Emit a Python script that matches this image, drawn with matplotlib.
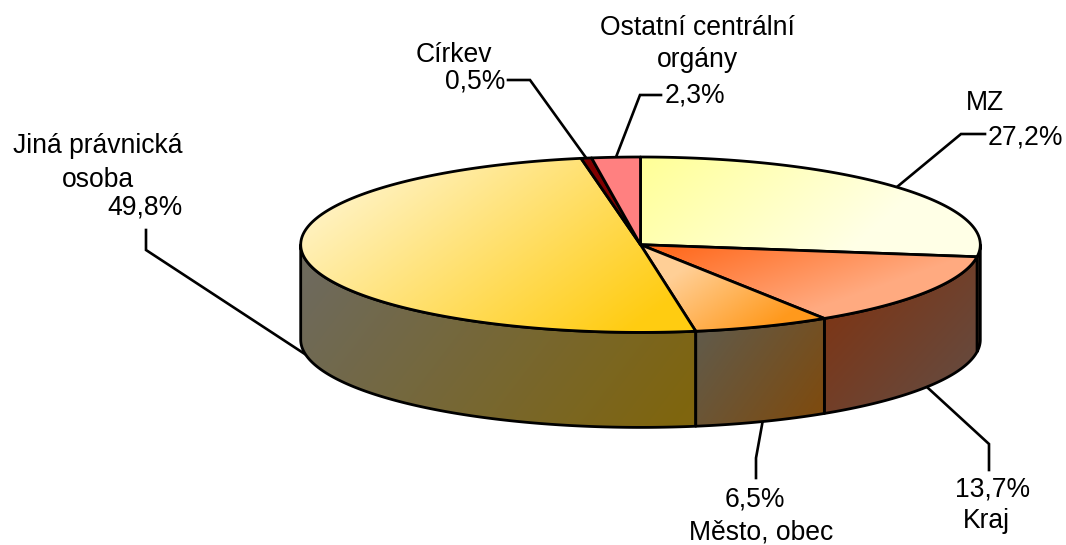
import numpy as np
import matplotlib
matplotlib.use("Agg")
import matplotlib.pyplot as plt
from matplotlib.patches import PathPatch
from matplotlib.path import Path
from matplotlib.colors import to_rgb

plt.rcParams['font.family'] = ['Liberation Sans', 'DejaVu Sans']

# --- data (clockwise from 12 o'clock) ---
categories = ["MZ", "Kraj", "Město, obec", "Jiná právnická osoba", "Církev", "Ostatní centrální orgány"]
shares = [27.2, 13.7, 6.5, 49.8, 0.5, 2.3]

# --- styles ---
top_colors = [("#FFFF99", "#FFFFE6"), ("#FF6A1E", "#FFAA80"), ("#FFCF96", "#FF991C"),
              ("#FFF1BC", "#FFCC11"), ("#800000", "#800000"), ("#FF8080", "#FF8080")]
top_dirs = [((660, 150), (790, 300)), ((690, 240), (725, 340)), ((690, 265), (745, 345)),
            ((440, 130), (605, 350)), ((0, 0), (1, 1)), ((0, 0), (1, 1))]
side_colors = [("#6B4A35", "#6B4A35"), ("#7C3617", "#664A3E"), ("#625A48", "#7F4A0C"),
               ("#6E6A5C", "#7F650E"), ("#400000", "#400000"), ("#804040", "#804040")]
side_dirs = [((0, 0), (1, 1)), ((840, 300), (950, 400)), ((700, 340), (820, 425)),
             ((340, 240), (640, 470)), ((0, 0), (1, 1)), ((0, 0), (1, 1))]
LW = 2.0
CX, CY, RX, RY, DEPTH = 640.5, 244.7, 339.8, 87.7, 95.0

pct = [f"{v:.1f}%".replace(".", ",") for v in shares]
# text line, x, baseline y, horizontal alignment
text_lines = [
    ("Ostatní centrální", 697.5, 35, "center"), ("orgány", 697.5, 67, "center"), (pct[5], 665, 103, "left"),
    ("Církev", 416, 62, "left"), (pct[4], 505, 89, "right"),
    ("Jiná právnická", 13, 153, "left"), ("osoba", 62, 187, "left"), (pct[3], 183, 215, "right"),
    ("MZ", 966, 110, "left"), (pct[0], 988, 144, "left"),
    (pct[1], 955, 497, "left"), ("Kraj", 963, 528, "left"),
    (pct[2], 725, 507, "left"), ("Město, obec", 689, 539.5, "left"),
]
# leader elbows, per slice index
leader_elbows = {0: [(961, 134), (985, 134)], 1: [(989, 444), (989, 470)], 2: [(756, 458), (756, 478)],
                 3: [(146, 250), (146, 230)], 4: [(530, 80), (508, 80)], 5: [(640, 95), (661, 95)]}

fig = plt.figure(figsize=(10.66, 5.45), dpi=100, facecolor="white")
ax = fig.add_axes([0, 0, 1, 1])
ax.set_xlim(0, 1066)
ax.set_ylim(545, 0)
ax.axis("off")

YY, XX = np.mgrid[0:545, 0:1066]


def rim(t, dy=0.0):
    t = np.asarray(t)
    return CX + RX * np.sin(t), CY - RY * np.cos(t) + dy


def gradient_fill(path, c0, c1, direction, z):
    (x0, y0), (x1, y1) = direction
    dx, dy = x1 - x0, y1 - y0
    u = np.clip(((XX + .5 - x0) * dx + (YY + .5 - y0) * dy) / (dx * dx + dy * dy), 0, 1)[..., None]
    img = (1 - u) * np.array(to_rgb(c0)) + u * np.array(to_rgb(c1))
    im = ax.imshow(img, extent=(0, 1066, 545, 0), aspect="auto", zorder=z, interpolation="bilinear")
    patch = PathPatch(path, transform=ax.transData, fc="none", ec="none")
    ax.add_patch(patch)
    im.set_clip_path(patch)
    ax.add_patch(PathPatch(path, fc="none", ec="black", lw=LW, zorder=z + .1, joinstyle="round"))


edges = np.radians(np.concatenate([[0], np.cumsum(shares)]) * 3.6)
edges[-1] = 2 * np.pi
mids = (edges[:-1] + edges[1:]) / 2

# leader lines (below the pie)
for i, elbow in leader_elbows.items():
    front = np.pi / 2 < mids[i] < 3 * np.pi / 2
    ax_, ay_ = rim(mids[i], DEPTH if front else 0)
    pts = [(float(ax_), float(ay_))] + elbow
    ax.plot(*zip(*pts), color="black", lw=LW * .95, zorder=1, solid_joinstyle="miter")

# sides: visible part of each slice lying in the front half
order = [0, 3, 1, 2]
for z, i in enumerate(order):
    a = max(edges[i], np.pi / 2)
    b = min(edges[i + 1], 3 * np.pi / 2)
    if b <= a:
        continue
    t = np.linspace(a, b, 150)
    xs, ys = rim(t)
    xb, yb = rim(t[::-1], DEPTH)
    verts = np.column_stack([np.r_[xs, xb], np.r_[ys, yb]])
    path = Path(np.vstack([verts, verts[0]]), closed=True)
    gradient_fill(path, *side_colors[i], side_dirs[i], 2 + z * .2)

# top faces
for i in [3, 0, 1, 2, 4, 5]:
    t = np.linspace(edges[i], edges[i + 1], 200)
    xs, ys = rim(t)
    verts = np.column_stack([np.r_[CX, xs, CX], np.r_[CY, ys, CY]])
    path = Path(verts, closed=True)
    gradient_fill(path, *top_colors[i], top_dirs[i], 4 + i * .2)

for s, x, y, ha in text_lines:
    ax.text(x, y, s, ha=ha, va="baseline", fontsize=19.1, color="black", zorder=10)

ax.set_xlim(0, 1066)
ax.set_ylim(545, 0)
fig.savefig("out.png", dpi=100, facecolor="white")
